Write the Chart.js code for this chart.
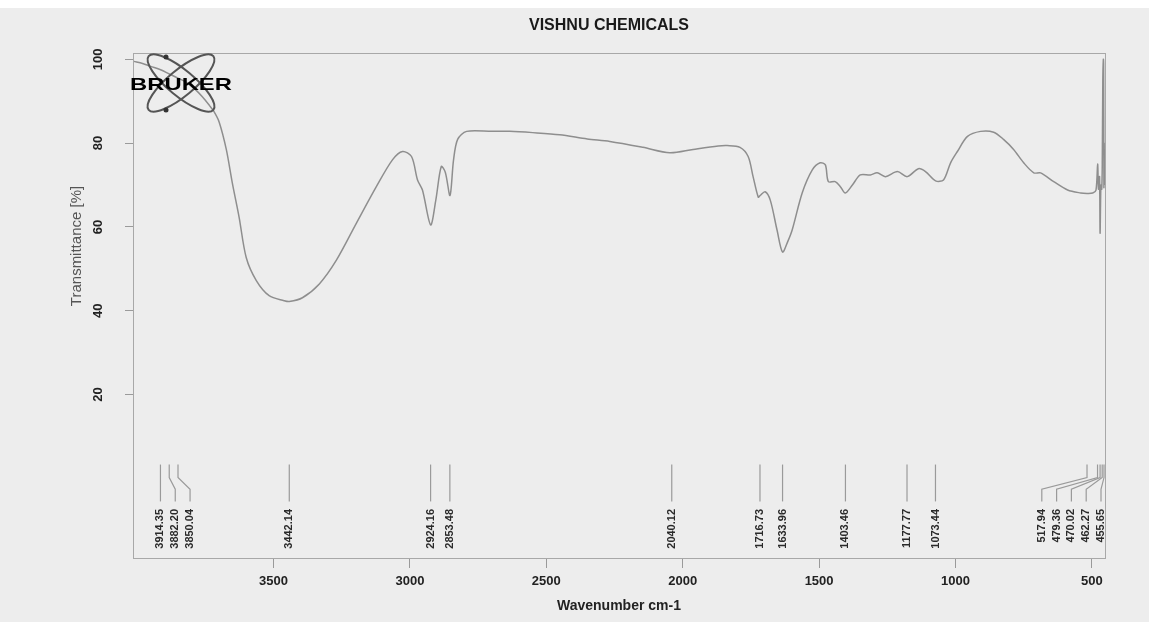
<!DOCTYPE html>
<html>
<head>
<meta charset="utf-8">
<script src="https://cdn.jsdelivr.net/npm/chart.js@4.4.1/dist/chart.umd.min.js"></script>
<style>
  html, body { margin: 0; padding: 0; background: #ededed; }
  #wrap { width: 1149px; height: 622px; }
</style>
</head>
<body>
<div id="wrap"><canvas id="irChart" width="1149" height="622"></canvas></div>
<script>
// spectrum (wavenumber cm-1 / transmittance %)
var wavenumbers = [4012, 3980, 3950, 3914, 3882, 3850, 3820, 3790, 3760, 3735, 3718, 3699, 3673, 3651, 3626,
  3600, 3563, 3516, 3461, 3442, 3394, 3332, 3270, 3196, 3123, 3064, 3027, 2994, 2972, 2954, 2924, 2905,
  2885, 2870, 2853, 2840, 2825, 2792, 2700, 2634, 2550, 2451, 2350, 2267, 2146, 2047, 1962, 1870, 1837,
  1790, 1760, 1742, 1723, 1716, 1698, 1679, 1654, 1634, 1615, 1599, 1562, 1525, 1496, 1477, 1466, 1441,
  1422, 1404, 1378, 1349, 1312, 1287, 1257, 1213, 1177, 1136, 1110, 1073, 1044, 1018, 993, 956, 908, 860,
  824, 787, 750, 713, 688, 640, 589, 541, 518, 497, 485, 479, 476, 472, 470, 467, 464, 462, 460, 458,
  457, 456, 455, 454];
var transmittance = [99.5, 99, 98.3, 97.5, 96.5, 95.5, 94.5, 93, 91, 89, 87.5, 85, 78.5, 70.5, 62.3,
  52.7, 47.2, 43.6, 42.4, 42.2, 43.1, 46.4, 52, 60.9, 69.6, 76, 78, 76.8, 71.2, 68.8, 60.5, 66.4,
  74.4, 73, 67.5, 76, 80.9, 82.8, 82.8, 82.8, 82.5, 82, 81, 80.4, 79, 77.7, 78.5, 79.3, 79.4,
  79, 76.8, 72, 67.1, 67.5, 68.4, 66.4, 59.2, 54, 56.5, 59.2, 68.1, 73.6, 75.3, 74.8, 70.8, 70.8,
  69.6, 68.1, 70, 72.4, 72.4, 72.9, 72, 73.2, 72, 73.9, 73.2, 71, 71.2, 75.3, 78, 81.6, 82.8, 82.6,
  80.9, 78.5, 75.3, 72.9, 72.9, 70.8, 68.8, 68.1, 68, 68.1, 68.8, 75, 69, 72, 58.5, 70, 69, 75, 95, 100,
  99, 69.5, 80, 70];

var peakLabels = [3914.35, 3882.20, 3850.04, 3442.14, 2924.16, 2853.48, 2040.12, 1716.73, 1633.96,
  1403.46, 1177.77, 1073.44, 517.94, 479.36, 470.02, 462.27, 455.65];

var xTickValues = [3500, 3000, 2500, 2000, 1500, 1000, 500];
var yTickValues = [20, 40, 60, 80, 100];

var chartTitle = 'VISHNU CHEMICALS';
var xTitle = 'Wavenumber cm-1';
var yTitle = 'Transmittance [%]';

var puntos = [];
wavenumbers.forEach(function (w, i) {
  puntos.push({ x: w, y: transmittance[i] });
});

// frame, title, logo, peak marks
var decoraciones = {
  id: 'decoraciones',
  beforeDraw: function (chart) {
    var ctx = chart.ctx;
    ctx.save();
    ctx.fillStyle = '#ededed';
    ctx.fillRect(0, 0, chart.width, chart.height);
    ctx.fillStyle = '#ffffff';
    ctx.fillRect(0, 0, chart.width, 8);
    ctx.restore();
  },
  afterDraw: function (chart) {
    var ctx = chart.ctx;
    var a = chart.chartArea;
    var xs = chart.scales.x;
    var ys = chart.scales.y;
    ctx.save();

    // frame
    ctx.strokeStyle = '#a8a8a8';
    ctx.lineWidth = 1;
    ctx.strokeRect(a.left + 0.5, a.top + 0.5, a.right - a.left, a.bottom - a.top);

    // title
    ctx.fillStyle = '#1a1a1a';
    ctx.font = 'bold 16px "Liberation Sans", Arial, sans-serif';
    ctx.textAlign = 'center';
    ctx.textBaseline = 'middle';
    ctx.fillText(chartTitle, 609, 26);

    // y title
    ctx.save();
    ctx.translate(77, 246);
    ctx.rotate(-Math.PI / 2);
    ctx.fillStyle = '#555';
    ctx.font = '15px "Liberation Sans", Arial, sans-serif';
    ctx.fillText(yTitle, 0, 0);
    ctx.restore();

    // logo
    ctx.save();
    ctx.translate(181, 83);
    ctx.strokeStyle = '#555';
    ctx.lineWidth = 2;
    ctx.beginPath();
    ctx.ellipse(0, 0, 42, 13, Math.PI * 0.22, 0, Math.PI * 2);
    ctx.stroke();
    ctx.beginPath();
    ctx.ellipse(0, 0, 42, 13, -Math.PI * 0.22, 0, Math.PI * 2);
    ctx.stroke();
    ctx.fillStyle = '#333';
    ctx.beginPath(); ctx.arc(-15, -26, 2.5, 0, Math.PI * 2); ctx.fill();
    ctx.beginPath(); ctx.arc(-15, 27, 2.5, 0, Math.PI * 2); ctx.fill();
    ctx.restore();
    ctx.save();
    ctx.translate(181, 85);
    ctx.scale(1.4, 1);
    ctx.fillStyle = '#000';
    ctx.font = 'bold 17px "Liberation Sans", Arial, sans-serif';
    ctx.textAlign = 'center';
    ctx.textBaseline = 'middle';
    ctx.fillText('BRUKER', 0, 0);
    ctx.restore();

    // peak marks
    var reales = peakLabels.map(function (p) { return xs.getPixelForValue(p); });
    var orden = reales.map(function (v, i) { return i; }).sort(function (i, j) { return reales[i] - reales[j]; });
    var pos = [];
    var gap = 14.8;
    orden.forEach(function (idx, k) {
      var v = reales[idx];
      pos[k] = k === 0 ? v : Math.max(v, pos[k - 1] + gap);
    });
    for (var k = pos.length - 1; k >= 0; k--) {
      if (k === pos.length - 1) pos[k] = Math.min(pos[k], a.right - 4);
      else pos[k] = Math.min(pos[k], pos[k + 1] - gap);
    }
    var yTop = ys.getPixelForValue(3.3);
    var yMid1 = ys.getPixelForValue(0.2);
    var yMid2 = ys.getPixelForValue(-2.6);
    var yBot = ys.getPixelForValue(-5.5);
    var yText = ys.getPixelForValue(-7.3);
    ctx.strokeStyle = '#9a9a9a';
    ctx.lineWidth = 1.2;
    ctx.fillStyle = '#2a2a2a';
    ctx.font = 'bold 11px "Liberation Sans", Arial, sans-serif';
    orden.forEach(function (idx, k) {
      var x0 = reales[idx];
      var x1 = pos[k];
      ctx.beginPath();
      if (Math.abs(x1 - x0) < 0.5) {
        ctx.moveTo(x0, yTop);
        ctx.lineTo(x0, yBot);
      } else {
        ctx.moveTo(x0, yTop);
        ctx.lineTo(x0, yMid1);
        ctx.lineTo(x1, yMid2);
        ctx.lineTo(x1, yBot);
      }
      ctx.stroke();
      ctx.save();
      ctx.translate(x1, yText);
      ctx.rotate(-Math.PI / 2);
      ctx.textAlign = 'right';
      ctx.textBaseline = 'middle';
      ctx.fillText(peakLabels[idx].toFixed(2), 0, 0);
      ctx.restore();
    });

    ctx.restore();
  }
};

var ctx = document.getElementById('irChart');
var grafico = new Chart(ctx, {
  type: 'line',
  data: {
    datasets: [{
      label: 'Transmittance',
      data: puntos,
      borderColor: '#8e8e8e',
      borderWidth: 1.5,
      pointRadius: 0,
      fill: false,
      tension: 0.3
    }]
  },
  options: {
    responsive: false,
    animation: false,
    layout: { padding: { left: 0, right: 44, top: 53, bottom: 0 } },
    plugins: {
      legend: { display: false },
      tooltip: { enabled: false },
      title: { display: false }
    },
    scales: {
      x: {
        type: 'linear',
        reverse: true,
        min: 452,
        max: 4015,
        afterBuildTicks: function (scale) {
          scale.ticks = xTickValues.map(function (v) { return { value: v }; });
        },
        afterFit: function (scale) { scale.height = 64; },
        grid: { display: true, drawOnChartArea: false, tickLength: 10, color: '#9a9a9a' },
        border: { display: false },
        ticks: {
          color: '#222',
          font: { family: '"Liberation Sans", Arial, sans-serif', size: 13, weight: 'bold' },
          padding: 6,
          maxRotation: 0,
          minRotation: 0,
          callback: function (value) { return String(value); }
        },
        title: {
          display: true,
          text: xTitle,
          color: '#222',
          font: { family: '"Liberation Sans", Arial, sans-serif', size: 14, weight: 'bold' },
          padding: { top: 0, bottom: 7 }
        }
      },
      y: {
        type: 'linear',
        min: -19,
        max: 101.5,
        afterBuildTicks: function (scale) {
          scale.ticks = yTickValues.map(function (v) { return { value: v }; });
        },
        afterFit: function (scale) { scale.width = 133; },
        grid: { display: true, drawOnChartArea: false, tickLength: 8, color: '#9a9a9a' },
        border: { display: false },
        ticks: {
          color: '#222',
          font: { family: '"Liberation Sans", Arial, sans-serif', size: 13, weight: 'bold' },
          minRotation: 90,
          maxRotation: 90,
          crossAlign: 'center',
          padding: 16,
          callback: function (value) { return String(value); }
        }
      }
    }
  },
  plugins: [decoraciones]
});
</script>
</body>
</html>
